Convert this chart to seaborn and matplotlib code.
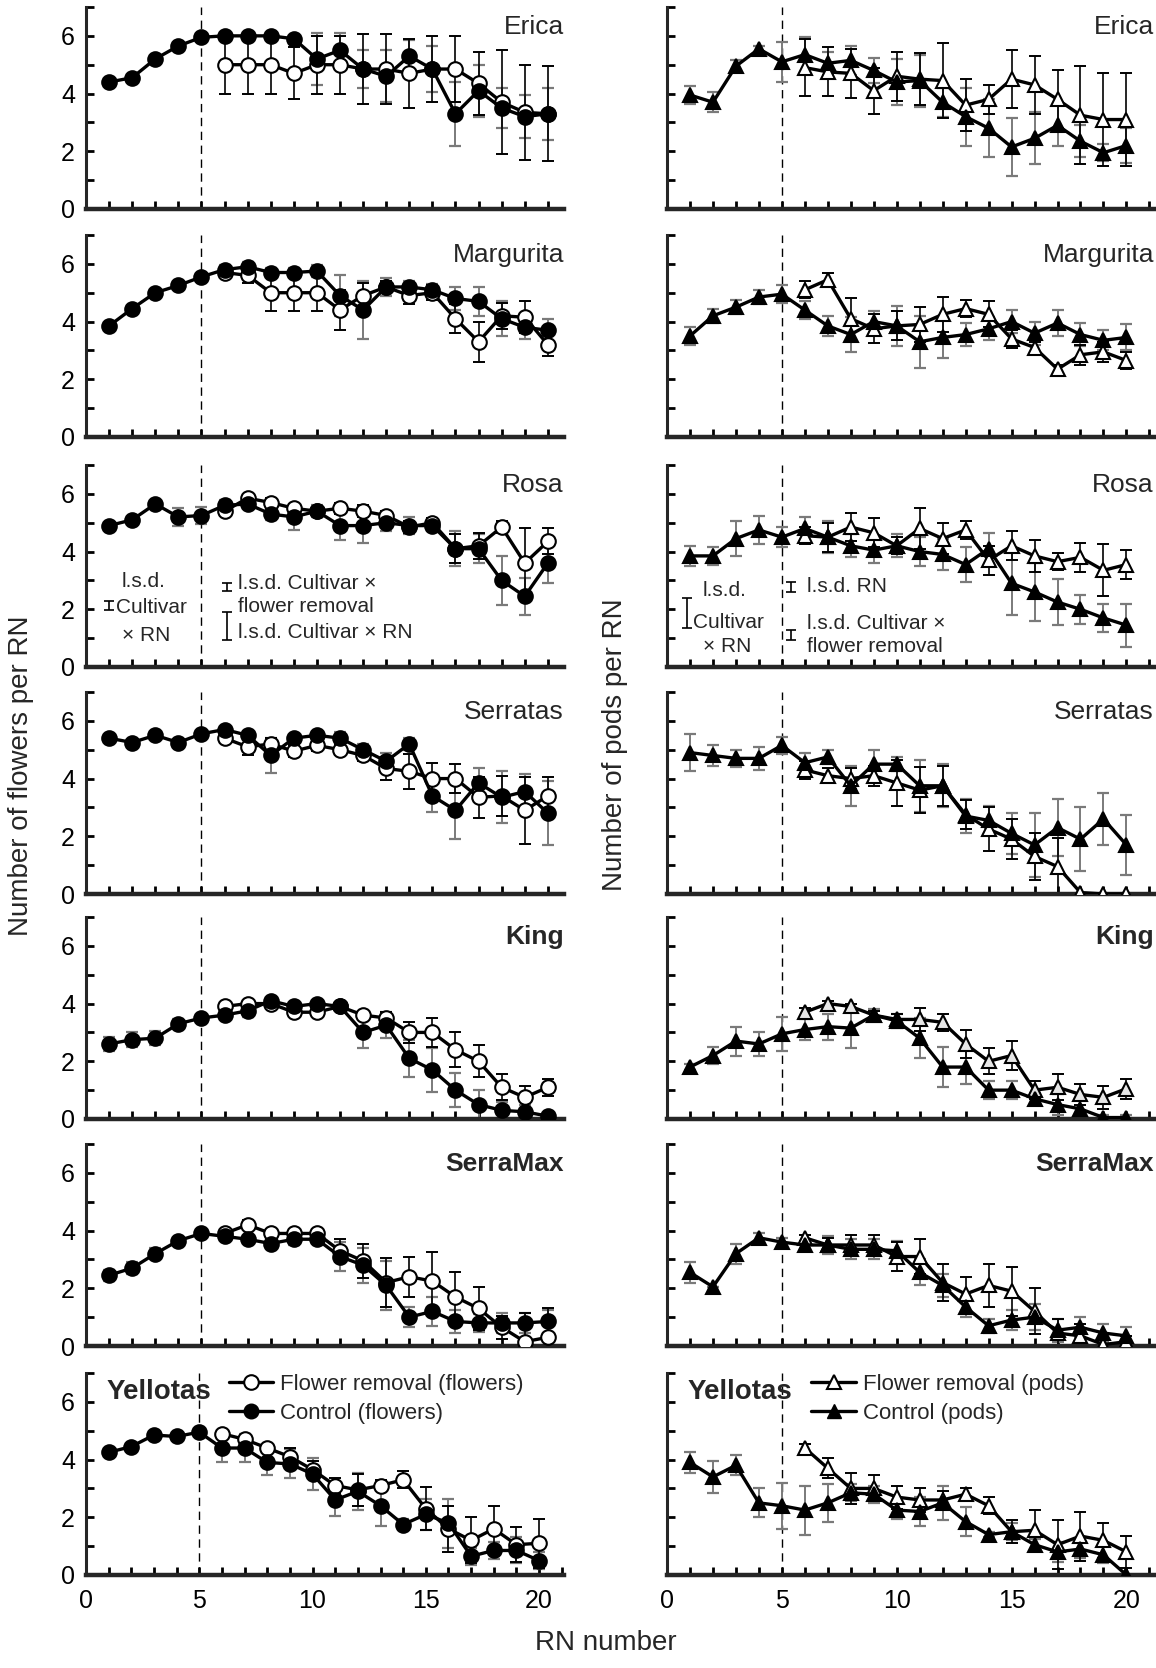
import numpy as np
import pandas as pd
import matplotlib
matplotlib.use("Agg")
import matplotlib.pyplot as plt
import seaborn as sns
from matplotlib.lines import Line2D
from matplotlib.ticker import MultipleLocator, FixedLocator

sns.set_theme(style="ticks")
plt.rcParams['font.family'] = ['Liberation Sans', 'DejaVu Sans']

# ---------------- data ----------------
rn = list(range(1, 21))
rn_rem = list(range(6, 21))
cultivars = ["Erica", "Margurita", "Rosa", "Serratas", "King", "SerraMax", "Yellotas"]
bold_names = ["King", "SerraMax", "Yellotas"]

# Flowers per RN: control (RN1-20), flower removal (RN6-20)
erica_fl_ctrl = [4.4, 4.55, 5.2, 5.65, 5.95, 6.0, 6.0, 6.0, 5.9, 5.2, 5.5, 4.85, 4.6, 5.3, 4.85, 3.3, 4.1, 3.5, 3.2, 3.3]
erica_fl_ctrl_err = [0.1, 0.1, 0.1, 0.1, 0.1, 0.1, 0.1, 0.1, 0.1, 0.9, 0.6, 0.65, 0.9, 0.55, 0.8, 1.1, 0.9, 0.7, 0.75, 0.9]
erica_fl_rem = [5.0, 5.0, 5.0, 4.7, 5.0, 5.0, 4.85, 4.85, 4.7, 4.85, 4.85, 4.35, 3.7, 3.35, 3.3]
erica_fl_rem_err = [1.0, 1.0, 1.0, 0.9, 1.0, 1.0, 1.2, 1.2, 1.2, 1.15, 1.15, 1.1, 1.8, 1.65, 1.65]

margurita_fl_ctrl = [3.85, 4.45, 5.0, 5.25, 5.55, 5.8, 5.9, 5.7, 5.7, 5.75, 4.9, 4.4, 5.2, 5.2, 5.1, 4.8, 4.7, 4.1, 3.8, 3.7]
margurita_fl_ctrl_err = [0.1, 0.1, 0.1, 0.1, 0.1, 0.15, 0.15, 0.15, 0.15, 0.2, 0.7, 1.0, 0.3, 0.2, 0.2, 0.4, 0.5, 0.6, 0.4, 0.4]
margurita_fl_rem = [5.7, 5.6, 5.0, 5.0, 5.0, 4.4, 4.9, 5.2, 4.9, 5.0, 4.1, 3.3, 4.2, 4.15, 3.2]
margurita_fl_rem_err = [0.1, 0.25, 0.65, 0.65, 0.65, 0.7, 0.45, 0.2, 0.3, 0.25, 0.5, 0.7, 0.45, 0.55, 0.4]

rosa_fl_ctrl = [4.9, 5.1, 5.65, 5.2, 5.25, 5.6, 5.65, 5.3, 5.2, 5.4, 4.9, 4.9, 5.0, 4.9, 4.9, 4.1, 4.1, 3.0, 2.45, 3.6]
rosa_fl_ctrl_err = [0.1, 0.1, 0.1, 0.3, 0.3, 0.2, 0.1, 0.2, 0.45, 0.2, 0.5, 0.6, 0.3, 0.3, 0.2, 0.6, 0.5, 0.85, 0.65, 0.7]
rosa_fl_rem = [5.4, 5.85, 5.7, 5.5, 5.4, 5.5, 5.4, 5.25, 4.85, 5.0, 4.1, 4.2, 4.85, 3.6, 4.35]
rosa_fl_rem_err = [0.15, 0.1, 0.15, 0.15, 0.15, 0.2, 0.2, 0.15, 0.2, 0.15, 0.5, 0.45, 0.2, 1.2, 0.45]

serratas_fl_ctrl = [5.4, 5.25, 5.5, 5.25, 5.55, 5.7, 5.5, 4.8, 5.4, 5.5, 5.4, 5.0, 4.6, 5.2, 3.4, 2.9, 3.85, 3.35, 3.55, 2.8]
serratas_fl_ctrl_err = [0.1, 0.1, 0.1, 0.1, 0.1, 0.1, 0.15, 0.6, 0.1, 0.1, 0.2, 0.2, 0.3, 0.2, 0.55, 1.0, 0.5, 0.9, 0.6, 1.1]
serratas_fl_rem = [5.4, 5.1, 5.2, 4.95, 5.15, 5.0, 4.8, 4.35, 4.25, 4.0, 4.0, 3.35, 3.4, 2.9, 3.4]
serratas_fl_rem_err = [0.15, 0.3, 0.2, 0.2, 0.2, 0.2, 0.2, 0.4, 0.6, 0.55, 0.5, 0.7, 0.7, 1.15, 0.65]

king_fl_ctrl = [2.6, 2.75, 2.8, 3.3, 3.5, 3.6, 3.75, 4.1, 3.9, 4.0, 3.9, 3.0, 3.25, 2.1, 1.7, 1.0, 0.5, 0.3, 0.25, 0.1]
king_fl_ctrl_err = [0.25, 0.25, 0.25, 0.15, 0.1, 0.1, 0.2, 0.1, 0.1, 0.1, 0.1, 0.55, 0.45, 0.65, 0.75, 0.6, 0.5, 0.3, 0.25, 0.1]
king_fl_rem = [3.9, 4.0, 4.0, 3.7, 3.7, 3.9, 3.6, 3.5, 3.0, 3.0, 2.4, 2.0, 1.1, 0.75, 1.1]
king_fl_rem_err = [0.1, 0.1, 0.1, 0.1, 0.1, 0.1, 0.1, 0.2, 0.35, 0.5, 0.6, 0.55, 0.45, 0.4, 0.3]

serramax_fl_ctrl = [2.45, 2.7, 3.2, 3.65, 3.9, 3.8, 3.7, 3.55, 3.7, 3.7, 3.1, 2.8, 2.1, 1.0, 1.2, 0.85, 0.8, 0.8, 0.8, 0.85]
serramax_fl_ctrl_err = [0.2, 0.2, 0.2, 0.1, 0.1, 0.1, 0.1, 0.2, 0.2, 0.1, 0.5, 0.6, 0.85, 0.35, 0.5, 0.4, 0.3, 0.35, 0.35, 0.4]
serramax_fl_rem = [3.9, 4.2, 3.9, 3.9, 3.9, 3.3, 2.95, 2.2, 2.4, 2.25, 1.7, 1.3, 0.65, 0.15, 0.3]
serramax_fl_rem_err = [0.1, 0.15, 0.15, 0.15, 0.15, 0.4, 0.6, 0.85, 0.7, 1.0, 0.85, 0.75, 0.4, 1.0, 1.0]

yellotas_fl_ctrl = [4.25, 4.45, 4.85, 4.8, 4.95, 4.4, 4.4, 3.9, 3.85, 3.5, 2.6, 2.9, 2.4, 1.75, 2.1, 1.8, 0.65, 0.85, 0.85, 0.5]
yellotas_fl_ctrl_err = [0.1, 0.1, 0.1, 0.1, 0.1, 0.5, 0.5, 0.45, 0.5, 0.55, 0.55, 0.65, 0.7, 0.2, 0.55, 0.85, 0.3, 0.3, 0.45, 0.3]
yellotas_fl_rem = [4.9, 4.7, 4.4, 4.1, 3.65, 3.1, 2.95, 3.1, 3.3, 2.3, 1.6, 1.2, 1.6, 1.05, 1.1]
yellotas_fl_rem_err = [0.1, 0.1, 0.1, 0.3, 0.3, 0.25, 0.55, 0.2, 0.3, 0.75, 0.8, 0.8, 0.8, 0.6, 0.85]

# Pods per RN
erica_pod_ctrl = [3.95, 3.7, 4.95, 5.55, 5.1, 5.35, 5.05, 5.15, 4.8, 4.4, 4.45, 3.7, 3.2, 2.8, 2.15, 2.45, 2.9, 2.35, 1.95, 2.2]
erica_pod_ctrl_err = [0.3, 0.35, 0.2, 0.1, 0.7, 0.6, 0.4, 0.5, 0.45, 0.8, 0.9, 0.5, 1.0, 1.0, 1.0, 0.9, 0.7, 0.55, 0.3, 0.6]
erica_pod_rem = [4.9, 4.75, 4.7, 4.1, 4.6, 4.5, 4.45, 3.6, 3.8, 4.5, 4.3, 3.8, 3.25, 3.1, 3.1]
erica_pod_rem_err = [1.0, 0.85, 0.85, 0.8, 0.85, 0.9, 1.3, 0.9, 0.5, 1.0, 1.0, 1.0, 1.7, 1.6, 1.6]

margurita_pod_ctrl = [3.5, 4.2, 4.5, 4.85, 4.95, 4.4, 3.85, 3.55, 4.0, 3.85, 3.3, 3.45, 3.55, 3.75, 4.0, 3.6, 3.95, 3.55, 3.35, 3.45]
margurita_pod_ctrl_err = [0.3, 0.25, 0.25, 0.25, 0.3, 0.3, 0.35, 0.6, 0.35, 0.7, 0.9, 0.7, 0.4, 0.4, 0.4, 0.4, 0.45, 0.4, 0.35, 0.45]
margurita_pod_rem = [5.1, 5.45, 4.1, 3.75, 3.85, 3.9, 4.25, 4.45, 4.25, 3.4, 3.1, 2.35, 2.85, 2.95, 2.65]
margurita_pod_rem_err = [0.3, 0.25, 0.7, 0.5, 0.5, 0.6, 0.6, 0.3, 0.45, 0.3, 0.2, 0.15, 0.35, 0.35, 0.3]

rosa_pod_ctrl = [3.85, 3.85, 4.45, 4.75, 4.5, 4.8, 4.5, 4.2, 4.05, 4.2, 4.0, 3.9, 3.55, 4.1, 2.9, 2.6, 2.25, 2.0, 1.7, 1.45]
rosa_pod_ctrl_err = [0.35, 0.3, 0.6, 0.5, 0.35, 0.4, 0.55, 0.4, 0.45, 0.4, 0.5, 0.55, 0.6, 0.55, 1.1, 1.0, 0.8, 0.5, 0.5, 0.75]
rosa_pod_rem = [4.55, 4.5, 4.85, 4.65, 4.2, 4.8, 4.45, 4.75, 3.7, 4.2, 3.85, 3.65, 3.8, 3.35, 3.55]
rosa_pod_rem_err = [0.3, 0.5, 0.5, 0.5, 0.3, 0.7, 0.55, 0.3, 0.5, 0.5, 0.55, 0.3, 0.5, 0.9, 0.5]

serratas_pod_ctrl = [4.9, 4.8, 4.7, 4.7, 5.15, 4.55, 4.75, 3.75, 4.5, 4.5, 3.75, 3.75, 2.7, 2.55, 2.1, 1.7, 2.3, 1.9, 2.6, 1.7]
serratas_pod_ctrl_err = [0.65, 0.35, 0.3, 0.4, 0.3, 0.35, 0.25, 0.7, 0.5, 0.25, 0.9, 0.75, 0.6, 0.5, 0.7, 1.1, 1.0, 1.1, 0.9, 1.05]
serratas_pod_rem = [4.3, 4.1, 4.0, 4.1, 3.85, 3.6, 3.75, 2.75, 2.25, 1.9, 1.3, 0.95, 0.05, 0.0, 0.0]
serratas_pod_rem_err = [0.3, 0.25, 0.35, 0.35, 0.8, 0.8, 0.7, 0.5, 0.75, 0.7, 0.8, 1.0, 0.0, 0.0, 0.0]

king_pod_ctrl = [1.8, 2.2, 2.7, 2.6, 2.95, 3.1, 3.2, 3.15, 3.6, 3.4, 2.8, 1.8, 1.8, 1.0, 1.0, 0.7, 0.5, 0.35, 0.05, 0.05]
king_pod_ctrl_err = [0.1, 0.3, 0.5, 0.4, 0.6, 0.35, 0.45, 0.7, 0.2, 0.25, 0.7, 0.7, 0.6, 0.3, 0.3, 0.2, 0.35, 0.3, 0.1, 0.1]
king_pod_rem = [3.7, 4.0, 3.9, 3.6, 3.45, 3.45, 3.35, 2.6, 2.0, 2.2, 1.0, 1.1, 0.85, 0.75, 1.05]
king_pod_rem_err = [0.15, 0.1, 0.1, 0.15, 0.2, 0.4, 0.3, 0.5, 0.45, 0.5, 0.3, 0.45, 0.35, 0.4, 0.35]

serramax_pod_ctrl = [2.55, 2.05, 3.2, 3.75, 3.6, 3.5, 3.5, 3.35, 3.35, 3.3, 2.55, 2.1, 1.35, 0.7, 0.9, 1.0, 0.55, 0.65, 0.45, 0.35]
serramax_pod_ctrl_err = [0.35, 0.0, 0.35, 0.15, 0.15, 0.15, 0.3, 0.35, 0.35, 0.35, 0.45, 0.4, 0.35, 0.25, 0.35, 0.45, 0.4, 0.35, 0.3, 0.3]
serramax_pod_rem = [3.75, 3.5, 3.5, 3.5, 3.1, 3.1, 2.2, 1.8, 2.1, 1.9, 1.2, 0.45, 0.35, 0.05, 0.15]
serramax_pod_rem_err = [0.1, 0.25, 0.35, 0.35, 0.5, 0.6, 0.65, 0.6, 0.75, 0.85, 0.8, 0.5, 0.4, 0.25, 0.2]

yellotas_pod_ctrl = [3.9, 3.4, 3.8, 2.5, 2.4, 2.25, 2.5, 2.85, 2.8, 2.25, 2.2, 2.5, 1.85, 1.4, 1.5, 1.05, 0.8, 0.9, 0.7, 0.0]
yellotas_pod_ctrl_err = [0.35, 0.55, 0.35, 0.5, 0.8, 0.85, 0.65, 0.3, 0.3, 0.3, 0.5, 0.6, 0.5, 0.1, 0.3, 0.2, 0.35, 0.3, 0.3, 0.0]
yellotas_pod_rem = [4.4, 3.7, 3.0, 3.0, 2.7, 2.6, 2.6, 2.8, 2.4, 1.5, 1.55, 1.05, 1.35, 1.2, 0.8]
yellotas_pod_rem_err = [0.15, 0.35, 0.55, 0.45, 0.4, 0.4, 0.3, 0.2, 0.3, 0.4, 0.7, 0.85, 0.85, 0.6, 0.55]

flowers = {
    "Erica": (erica_fl_ctrl, erica_fl_ctrl_err, erica_fl_rem, erica_fl_rem_err),
    "Margurita": (margurita_fl_ctrl, margurita_fl_ctrl_err, margurita_fl_rem, margurita_fl_rem_err),
    "Rosa": (rosa_fl_ctrl, rosa_fl_ctrl_err, rosa_fl_rem, rosa_fl_rem_err),
    "Serratas": (serratas_fl_ctrl, serratas_fl_ctrl_err, serratas_fl_rem, serratas_fl_rem_err),
    "King": (king_fl_ctrl, king_fl_ctrl_err, king_fl_rem, king_fl_rem_err),
    "SerraMax": (serramax_fl_ctrl, serramax_fl_ctrl_err, serramax_fl_rem, serramax_fl_rem_err),
    "Yellotas": (yellotas_fl_ctrl, yellotas_fl_ctrl_err, yellotas_fl_rem, yellotas_fl_rem_err),
}
pods = {
    "Erica": (erica_pod_ctrl, erica_pod_ctrl_err, erica_pod_rem, erica_pod_rem_err),
    "Margurita": (margurita_pod_ctrl, margurita_pod_ctrl_err, margurita_pod_rem, margurita_pod_rem_err),
    "Rosa": (rosa_pod_ctrl, rosa_pod_ctrl_err, rosa_pod_rem, rosa_pod_rem_err),
    "Serratas": (serratas_pod_ctrl, serratas_pod_ctrl_err, serratas_pod_rem, serratas_pod_rem_err),
    "King": (king_pod_ctrl, king_pod_ctrl_err, king_pod_rem, king_pod_rem_err),
    "SerraMax": (serramax_pod_ctrl, serramax_pod_ctrl_err, serramax_pod_rem, serramax_pod_rem_err),
    "Yellotas": (yellotas_pod_ctrl, yellotas_pod_ctrl_err, yellotas_pod_rem, yellotas_pod_rem_err),
}

# ---------------- layout ----------------
W, H = 1156, 1668
fig = plt.figure(figsize=(W / 100, H / 100), dpi=100)
row_bottoms = [209, 437, 667, 894, 1119, 1346, 1575]
ax_h = 202
left_x, left_w = 86, 478
right_x, right_w = 667, 487

MS = 10.5
LW = 2.4


def style_axis(ax, xmax, show_ylabels, show_xlabels):
    ax.set_xlim(0, xmax)
    ax.set_ylim(0, 7)
    for s in ["top", "right"]:
        ax.spines[s].set_visible(False)
    ax.spines["left"].set_linewidth(2.2)
    ax.spines["bottom"].set_linewidth(3.2)
    ax.xaxis.set_major_locator(FixedLocator([0, 5, 10, 15, 20]))
    ax.xaxis.set_minor_locator(MultipleLocator(1))
    ax.yaxis.set_major_locator(FixedLocator([0, 2, 4, 6]))
    ax.yaxis.set_minor_locator(FixedLocator([1, 3, 5, 7]))
    ax.tick_params(axis="both", which="both", direction="in", length=6, width=2.0,
                   colors="black", labelsize=18)
    ax.tick_params(axis="x", which="major", pad=10)
    ax.tick_params(axis="y", which="major", pad=8)
    if not show_ylabels:
        ax.set_yticklabels([])
    if not show_xlabels:
        ax.set_xticklabels([])
    ax.set_xlabel("")
    ax.set_ylabel("")
    ax.set_facecolor("white")


def draw_series(ax, ctrl, ctrl_err, rem, rem_err, marker, rem_face="white"):
    ax.errorbar(rn, ctrl, yerr=ctrl_err, fmt="none", ecolor="#7a7a7a",
                elinewidth=1.4, capsize=4.5, capthick=1.6, zorder=2)
    ax.errorbar(rn_rem, rem, yerr=rem_err, fmt="none", ecolor="black",
                elinewidth=1.2, capsize=4.5, capthick=1.4, zorder=2)
    df_c = pd.DataFrame({"RN": rn, "value": ctrl})
    df_r = pd.DataFrame({"RN": rn_rem, "value": rem})
    sns.lineplot(data=df_r, x="RN", y="value", ax=ax, color="black", linewidth=LW,
                 marker=marker, markersize=MS, markerfacecolor=rem_face,
                 markeredgecolor="black", markeredgewidth=1.5, zorder=3)
    sns.lineplot(data=df_c, x="RN", y="value", ax=ax, color="black", linewidth=LW,
                 marker=marker, markersize=MS, markerfacecolor="black",
                 markeredgecolor="black", markeredgewidth=1.5, zorder=4)


axes_left, axes_right = [], []
for i, name in enumerate(cultivars):
    b = 1 - row_bottoms[i] / H
    axl = fig.add_axes([left_x / W, b, left_w / W, ax_h / H])
    axr = fig.add_axes([right_x / W, b, right_w / W, ax_h / H])
    last = (i == len(cultivars) - 1)
    xmax_l = 21.1 if last else 20.7
    xmax_r = 21.2

    c, ce, r, re_ = flowers[name]
    draw_series(axl, c, ce, r, re_, "o")
    c, ce, r, re_ = pods[name]
    draw_series(axr, c, ce, r, re_, "^", rem_face="#e6e6e6" if name == "King" else "white")

    for ax in (axl, axr):
        ax.axvline(5, color="black", linestyle=(0, (6, 4)), linewidth=1.0, zorder=1)
    style_axis(axl, xmax_l, True, last)
    style_axis(axr, xmax_r, False, last)

    weight = "bold" if name in bold_names else "normal"
    if name == "Yellotas":
        for ax in (axl, axr):
            ax.text(0.9, 6.35, name, fontsize=20, fontweight=weight, ha="left", va="center")
    else:
        axl.text(xmax_l, 6.3, name, fontsize=19, fontweight=weight, ha="right", va="center")
        axr.text(xmax_r, 6.3, name, fontsize=19, fontweight=weight, ha="right", va="center")
    axes_left.append(axl)
    axes_right.append(axr)

# ---------------- l.s.d. annotations (Rosa) ----------------
axl = axes_left[2]
fs_ann = 15
def lsd_bar(ax, x, yc, half):
    ax.errorbar([x], [yc], yerr=[half], fmt="none", ecolor="black",
                elinewidth=1.2, capsize=3.5, capthick=1.2, zorder=5)

lsd_bar(axl, 1.0, 2.13, 0.16)
axl.text(2.5, 2.95, "l.s.d.", fontsize=fs_ann, ha="center", va="center")
axl.text(1.3, 2.05, "Cultivar", fontsize=fs_ann, ha="left", va="center")
axl.text(2.6, 1.1, "× RN", fontsize=fs_ann, ha="center", va="center")
lsd_bar(axl, 6.1, 2.78, 0.13)
axl.text(6.6, 2.9, "l.s.d. Cultivar ×", fontsize=fs_ann, ha="left", va="center")
axl.text(6.6, 2.1, "flower removal", fontsize=fs_ann, ha="left", va="center")
lsd_bar(axl, 6.1, 1.42, 0.49)
axl.text(6.6, 1.2, "l.s.d. Cultivar × RN", fontsize=fs_ann, ha="left", va="center")

axr = axes_right[2]
lsd_bar(axr, 0.85, 1.87, 0.53)
axr.text(2.5, 2.65, "l.s.d.", fontsize=fs_ann, ha="center", va="center")
axr.text(1.15, 1.55, "Cultivar", fontsize=fs_ann, ha="left", va="center")
axr.text(2.6, 0.7, "× RN", fontsize=fs_ann, ha="center", va="center")
lsd_bar(axr, 5.4, 2.77, 0.17)
axr.text(6.1, 2.8, "l.s.d. RN", fontsize=fs_ann, ha="left", va="center")
lsd_bar(axr, 5.4, 1.11, 0.17)
axr.text(6.1, 1.5, "l.s.d. Cultivar ×", fontsize=fs_ann, ha="left", va="center")
axr.text(6.1, 0.72, "flower removal", fontsize=fs_ann, ha="left", va="center")

# ---------------- legends (Yellotas) ----------------
h_rem_f = Line2D([], [], color="black", linewidth=LW, marker="o", markersize=MS,
                 markerfacecolor="white", markeredgecolor="black", markeredgewidth=1.5)
h_ctl_f = Line2D([], [], color="black", linewidth=LW, marker="o", markersize=MS,
                 markerfacecolor="black", markeredgecolor="black")
h_rem_p = Line2D([], [], color="black", linewidth=LW, marker="^", markersize=MS,
                 markerfacecolor="white", markeredgecolor="black", markeredgewidth=1.5)
h_ctl_p = Line2D([], [], color="black", linewidth=LW, marker="^", markersize=MS,
                 markerfacecolor="black", markeredgecolor="black")
leg_kw = dict(frameon=False, fontsize=16, handlelength=2.0, handletextpad=0.3,
              labelspacing=0.35, borderaxespad=0, loc="upper left")
axes_left[-1].legend([h_rem_f, h_ctl_f], ["Flower removal (flowers)", "Control (flowers)"],
                     bbox_to_anchor=(5.9 / 21.1, 1.04), **leg_kw)
axes_right[-1].legend([h_rem_p, h_ctl_p], ["Flower removal (pods)", "Control (pods)"],
                      bbox_to_anchor=(5.9 / 21.2, 1.04), **leg_kw)

# ---------------- axis labels ----------------
fig.text(21 / W, 1 - 776 / H, "Number of flowers per RN", rotation=90, fontsize=20,
         ha="center", va="center")
fig.text(615 / W, 1 - 745 / H, "Number of pods per RN", rotation=90, fontsize=20,
         ha="center", va="center")
fig.text(606 / W, 1 - 1643 / H, "RN number", fontsize=20, ha="center", va="center")

fig.savefig("out.png", dpi=100, facecolor="white")
